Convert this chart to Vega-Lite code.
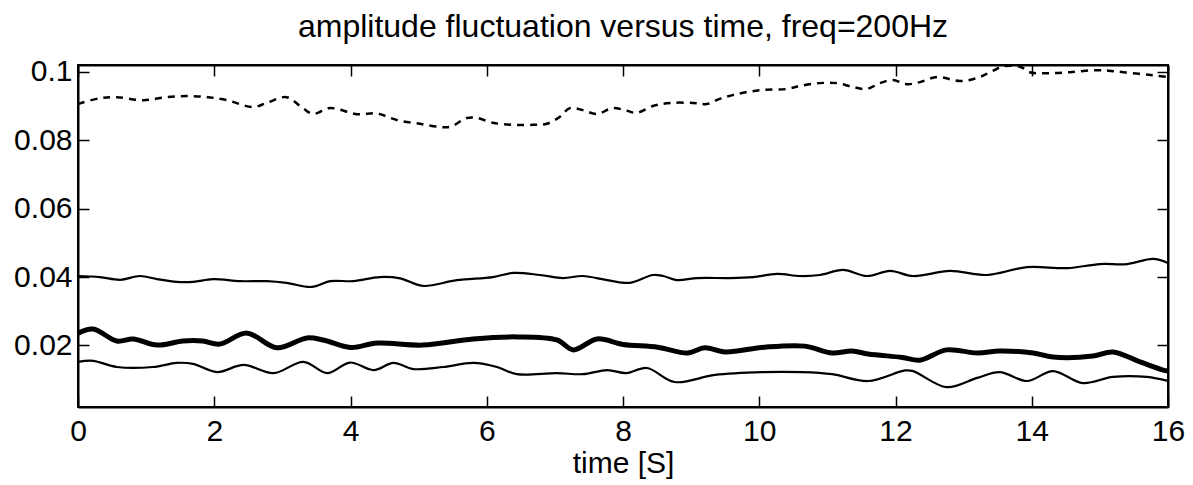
{
  "$schema": "https://vega.github.io/schema/vega-lite/v6.json",
  "width": 1090,
  "height": 342,
  "autosize": "none",
  "padding": {"left": 78, "top": 65, "right": 25, "bottom": 78},
  "background": "white",
  "title": {
    "text": "amplitude fluctuation versus time, freq=200Hz",
    "font": "Liberation Sans",
    "fontSize": 32,
    "fontWeight": "normal",
    "color": "black",
    "anchor": "middle",
    "offset": 13
  },
  "config": {
    "view": {"stroke": "black", "strokeWidth": 2},
    "axis": {
      "grid": false,
      "domain": true,
      "domainColor": "black",
      "domainWidth": 2,
      "tickColor": "black",
      "tickWidth": 1.5,
      "tickSize": -11,
      "labelFont": "Liberation Sans",
      "labelFontSize": 30,
      "labelColor": "black",
      "titleFont": "Liberation Sans",
      "titleFontSize": 30,
      "titleFontWeight": "normal",
      "titleColor": "black"
    }
  },
  "data": {
    "values": [
      {"series": "dashed", "t": 0.0, "v": 0.0906},
      {"series": "dashed", "t": 0.32, "v": 0.0923},
      {"series": "dashed", "t": 0.57, "v": 0.0926},
      {"series": "dashed", "t": 0.96, "v": 0.0917},
      {"series": "dashed", "t": 1.3, "v": 0.0926},
      {"series": "dashed", "t": 1.6, "v": 0.0929},
      {"series": "dashed", "t": 1.9, "v": 0.0926},
      {"series": "dashed", "t": 2.19, "v": 0.0917},
      {"series": "dashed", "t": 2.57, "v": 0.0897},
      {"series": "dashed", "t": 2.77, "v": 0.0909},
      {"series": "dashed", "t": 3.06, "v": 0.0926},
      {"series": "dashed", "t": 3.3, "v": 0.0894},
      {"series": "dashed", "t": 3.45, "v": 0.0877},
      {"series": "dashed", "t": 3.7, "v": 0.0894},
      {"series": "dashed", "t": 4.1, "v": 0.0876},
      {"series": "dashed", "t": 4.39, "v": 0.0878},
      {"series": "dashed", "t": 4.68, "v": 0.0859},
      {"series": "dashed", "t": 5.02, "v": 0.0848},
      {"series": "dashed", "t": 5.31, "v": 0.0839},
      {"series": "dashed", "t": 5.46, "v": 0.0839},
      {"series": "dashed", "t": 5.71, "v": 0.0865},
      {"series": "dashed", "t": 5.86, "v": 0.0865},
      {"series": "dashed", "t": 6.09, "v": 0.0851},
      {"series": "dashed", "t": 6.39, "v": 0.0845},
      {"series": "dashed", "t": 6.68, "v": 0.0845},
      {"series": "dashed", "t": 6.88, "v": 0.0848},
      {"series": "dashed", "t": 7.07, "v": 0.0868},
      {"series": "dashed", "t": 7.22, "v": 0.0894},
      {"series": "dashed", "t": 7.41, "v": 0.0888},
      {"series": "dashed", "t": 7.62, "v": 0.0877},
      {"series": "dashed", "t": 7.85, "v": 0.0894},
      {"series": "dashed", "t": 8.06, "v": 0.0886},
      {"series": "dashed", "t": 8.2, "v": 0.088},
      {"series": "dashed", "t": 8.44, "v": 0.09},
      {"series": "dashed", "t": 8.69, "v": 0.0909},
      {"series": "dashed", "t": 9.03, "v": 0.0909},
      {"series": "dashed", "t": 9.23, "v": 0.0906},
      {"series": "dashed", "t": 9.42, "v": 0.0921},
      {"series": "dashed", "t": 9.61, "v": 0.0932},
      {"series": "dashed", "t": 9.82, "v": 0.0941},
      {"series": "dashed", "t": 10.06, "v": 0.0947},
      {"series": "dashed", "t": 10.41, "v": 0.095},
      {"series": "dashed", "t": 10.6, "v": 0.0959},
      {"series": "dashed", "t": 10.89, "v": 0.0967},
      {"series": "dashed", "t": 11.14, "v": 0.0967},
      {"series": "dashed", "t": 11.37, "v": 0.0956},
      {"series": "dashed", "t": 11.58, "v": 0.095},
      {"series": "dashed", "t": 11.77, "v": 0.0967},
      {"series": "dashed", "t": 11.96, "v": 0.0976},
      {"series": "dashed", "t": 12.17, "v": 0.0964},
      {"series": "dashed", "t": 12.36, "v": 0.097},
      {"series": "dashed", "t": 12.61, "v": 0.0985},
      {"series": "dashed", "t": 12.95, "v": 0.0973},
      {"series": "dashed", "t": 13.2, "v": 0.0982},
      {"series": "dashed", "t": 13.39, "v": 0.0999},
      {"series": "dashed", "t": 13.58, "v": 0.1016},
      {"series": "dashed", "t": 13.83, "v": 0.1015},
      {"series": "dashed", "t": 13.97, "v": 0.0999},
      {"series": "dashed", "t": 14.22, "v": 0.0996},
      {"series": "dashed", "t": 14.56, "v": 0.0999},
      {"series": "dashed", "t": 14.96, "v": 0.1005},
      {"series": "dashed", "t": 15.19, "v": 0.1002},
      {"series": "dashed", "t": 15.49, "v": 0.0996},
      {"series": "dashed", "t": 15.78, "v": 0.099},
      {"series": "dashed", "t": 16.0, "v": 0.0985},

      {"series": "upper", "t": 0.0, "v": 0.0403},
      {"series": "upper", "t": 0.32, "v": 0.04},
      {"series": "upper", "t": 0.62, "v": 0.0392},
      {"series": "upper", "t": 0.91, "v": 0.0403},
      {"series": "upper", "t": 1.16, "v": 0.0394},
      {"series": "upper", "t": 1.45, "v": 0.0386},
      {"series": "upper", "t": 1.69, "v": 0.0386},
      {"series": "upper", "t": 1.98, "v": 0.0394},
      {"series": "upper", "t": 2.38, "v": 0.0388},
      {"series": "upper", "t": 2.77, "v": 0.0388},
      {"series": "upper", "t": 3.06, "v": 0.0383},
      {"series": "upper", "t": 3.43, "v": 0.0371},
      {"series": "upper", "t": 3.7, "v": 0.0388},
      {"series": "upper", "t": 4.04, "v": 0.0388},
      {"series": "upper", "t": 4.43, "v": 0.04},
      {"series": "upper", "t": 4.73, "v": 0.0396},
      {"series": "upper", "t": 5.06, "v": 0.0374},
      {"series": "upper", "t": 5.56, "v": 0.0391},
      {"series": "upper", "t": 6.09, "v": 0.04},
      {"series": "upper", "t": 6.39, "v": 0.0412},
      {"series": "upper", "t": 6.78, "v": 0.0406},
      {"series": "upper", "t": 7.12, "v": 0.0397},
      {"series": "upper", "t": 7.41, "v": 0.0403},
      {"series": "upper", "t": 7.77, "v": 0.0391},
      {"series": "upper", "t": 8.1, "v": 0.0383},
      {"series": "upper", "t": 8.44, "v": 0.0406},
      {"series": "upper", "t": 8.59, "v": 0.0403},
      {"series": "upper", "t": 8.79, "v": 0.0391},
      {"series": "upper", "t": 9.09, "v": 0.0397},
      {"series": "upper", "t": 9.57, "v": 0.0397},
      {"series": "upper", "t": 9.91, "v": 0.04},
      {"series": "upper", "t": 10.26, "v": 0.0409},
      {"series": "upper", "t": 10.6, "v": 0.0403},
      {"series": "upper", "t": 10.89, "v": 0.0406},
      {"series": "upper", "t": 11.23, "v": 0.0421},
      {"series": "upper", "t": 11.58, "v": 0.0403},
      {"series": "upper", "t": 11.92, "v": 0.0418},
      {"series": "upper", "t": 12.26, "v": 0.0403},
      {"series": "upper", "t": 12.8, "v": 0.0418},
      {"series": "upper", "t": 13.34, "v": 0.0406},
      {"series": "upper", "t": 13.93, "v": 0.0429},
      {"series": "upper", "t": 14.52, "v": 0.0426},
      {"series": "upper", "t": 15.0, "v": 0.0438},
      {"series": "upper", "t": 15.4, "v": 0.0438},
      {"series": "upper", "t": 15.78, "v": 0.0453},
      {"series": "upper", "t": 16.0, "v": 0.0441},

      {"series": "thick", "t": 0.0, "v": 0.0236},
      {"series": "thick", "t": 0.22, "v": 0.0248},
      {"series": "thick", "t": 0.57, "v": 0.0213},
      {"series": "thick", "t": 0.81, "v": 0.0219},
      {"series": "thick", "t": 1.16, "v": 0.0201},
      {"series": "thick", "t": 1.54, "v": 0.0213},
      {"series": "thick", "t": 1.83, "v": 0.0213},
      {"series": "thick", "t": 2.08, "v": 0.0204},
      {"series": "thick", "t": 2.48, "v": 0.0236},
      {"series": "thick", "t": 2.92, "v": 0.0193},
      {"series": "thick", "t": 3.36, "v": 0.0222},
      {"series": "thick", "t": 3.6, "v": 0.0216},
      {"series": "thick", "t": 4.0, "v": 0.0194},
      {"series": "thick", "t": 4.39, "v": 0.0207},
      {"series": "thick", "t": 5.06, "v": 0.0201},
      {"series": "thick", "t": 5.8, "v": 0.0219},
      {"series": "thick", "t": 6.44, "v": 0.0225},
      {"series": "thick", "t": 7.03, "v": 0.0216},
      {"series": "thick", "t": 7.27, "v": 0.0187},
      {"series": "thick", "t": 7.62, "v": 0.0219},
      {"series": "thick", "t": 8.0, "v": 0.0203},
      {"series": "thick", "t": 8.51, "v": 0.0195},
      {"series": "thick", "t": 8.95, "v": 0.0178},
      {"series": "thick", "t": 9.2, "v": 0.0193},
      {"series": "thick", "t": 9.5, "v": 0.0181},
      {"series": "thick", "t": 10.08, "v": 0.0195},
      {"series": "thick", "t": 10.67, "v": 0.0198},
      {"series": "thick", "t": 11.07, "v": 0.0178},
      {"series": "thick", "t": 11.36, "v": 0.0184},
      {"series": "thick", "t": 11.6, "v": 0.0175},
      {"series": "thick", "t": 12.1, "v": 0.0165},
      {"series": "thick", "t": 12.36, "v": 0.0157},
      {"series": "thick", "t": 12.75, "v": 0.0187},
      {"series": "thick", "t": 13.2, "v": 0.0178},
      {"series": "thick", "t": 13.53, "v": 0.0184},
      {"series": "thick", "t": 14.02, "v": 0.0178},
      {"series": "thick", "t": 14.31, "v": 0.0166},
      {"series": "thick", "t": 14.9, "v": 0.0169},
      {"series": "thick", "t": 15.19, "v": 0.0181},
      {"series": "thick", "t": 15.59, "v": 0.0152},
      {"series": "thick", "t": 15.93, "v": 0.0128},
      {"series": "thick", "t": 16.0, "v": 0.0125},

      {"series": "lower", "t": 0.0, "v": 0.0152},
      {"series": "lower", "t": 0.22, "v": 0.0155},
      {"series": "lower", "t": 0.57, "v": 0.0137},
      {"series": "lower", "t": 1.1, "v": 0.0137},
      {"series": "lower", "t": 1.45, "v": 0.0149},
      {"series": "lower", "t": 1.69, "v": 0.0146},
      {"series": "lower", "t": 2.04, "v": 0.0122},
      {"series": "lower", "t": 2.43, "v": 0.0143},
      {"series": "lower", "t": 2.87, "v": 0.0119},
      {"series": "lower", "t": 3.31, "v": 0.0152},
      {"series": "lower", "t": 3.66, "v": 0.0119},
      {"series": "lower", "t": 3.99, "v": 0.015},
      {"series": "lower", "t": 4.34, "v": 0.0128},
      {"series": "lower", "t": 4.63, "v": 0.0149},
      {"series": "lower", "t": 4.92, "v": 0.0131},
      {"series": "lower", "t": 5.36, "v": 0.0137},
      {"series": "lower", "t": 5.8, "v": 0.0149},
      {"series": "lower", "t": 6.15, "v": 0.0137},
      {"series": "lower", "t": 6.44, "v": 0.0116},
      {"series": "lower", "t": 7.03, "v": 0.0119},
      {"series": "lower", "t": 7.41, "v": 0.0116},
      {"series": "lower", "t": 7.77, "v": 0.0128},
      {"series": "lower", "t": 8.05, "v": 0.0119},
      {"series": "lower", "t": 8.35, "v": 0.0134},
      {"series": "lower", "t": 8.76, "v": 0.0093},
      {"series": "lower", "t": 9.35, "v": 0.0114},
      {"series": "lower", "t": 10.04, "v": 0.0122},
      {"series": "lower", "t": 10.63, "v": 0.0122},
      {"series": "lower", "t": 11.07, "v": 0.0116},
      {"series": "lower", "t": 11.6, "v": 0.0096},
      {"series": "lower", "t": 12.14, "v": 0.0127},
      {"series": "lower", "t": 12.26, "v": 0.0125},
      {"series": "lower", "t": 12.75, "v": 0.0078},
      {"series": "lower", "t": 13.2, "v": 0.0105},
      {"series": "lower", "t": 13.53, "v": 0.0122},
      {"series": "lower", "t": 13.93, "v": 0.0096},
      {"series": "lower", "t": 14.31, "v": 0.0125},
      {"series": "lower", "t": 14.75, "v": 0.009},
      {"series": "lower", "t": 15.19, "v": 0.0108},
      {"series": "lower", "t": 15.69, "v": 0.0108},
      {"series": "lower", "t": 16.0, "v": 0.0096}
    ]
  },
  "layer": [
    {
      "encoding": {
        "x": {
          "field": "t", "type": "quantitative",
          "scale": {"domain": [0, 16], "nice": false, "zero": false},
          "axis": {"orient": "bottom", "values": [0, 2, 4, 6, 8, 10, 12, 14, 16], "title": "time [S]", "labelPadding": 20, "titlePadding": 2, "labelFlush": false}
        },
        "y": {
          "field": "v", "type": "quantitative",
          "scale": {"domain": [0.002, 0.102], "nice": false, "zero": false},
          "axis": {"orient": "left", "values": [0.02, 0.04, 0.06, 0.08, 0.1], "format": "~g", "title": null, "labelPadding": 17, "labelFlush": false}
        }
      },
      "layer": [
        {
          "transform": [{"filter": "datum.series === 'dashed'"}],
          "mark": {"type": "line", "interpolate": "catmull-rom", "color": "black", "strokeWidth": 2.5, "strokeDash": [7, 6], "clip": true}
        },
        {
          "transform": [{"filter": "datum.series === 'upper'"}],
          "mark": {"type": "line", "interpolate": "catmull-rom", "color": "black", "strokeWidth": 2.2, "clip": true}
        },
        {
          "transform": [{"filter": "datum.series === 'thick'"}],
          "mark": {"type": "line", "interpolate": "catmull-rom", "color": "black", "strokeWidth": 5, "clip": true}
        },
        {
          "transform": [{"filter": "datum.series === 'lower'"}],
          "mark": {"type": "line", "interpolate": "catmull-rom", "color": "black", "strokeWidth": 2.2, "clip": true}
        }
      ]
    },
    {
      "mark": {"type": "line", "opacity": 0},
      "encoding": {
        "x": {"field": "t", "type": "quantitative", "axis": {"orient": "top", "values": [0, 2, 4, 6, 8, 10, 12, 14, 16], "labels": false, "title": null}},
        "y": {"field": "v", "type": "quantitative", "axis": {"orient": "right", "values": [0.02, 0.04, 0.06, 0.08, 0.1], "labels": false, "title": null}},
        "detail": {"field": "series"}
      }
    }
  ],
  "resolve": {"axis": {"x": "independent", "y": "independent"}}
}
